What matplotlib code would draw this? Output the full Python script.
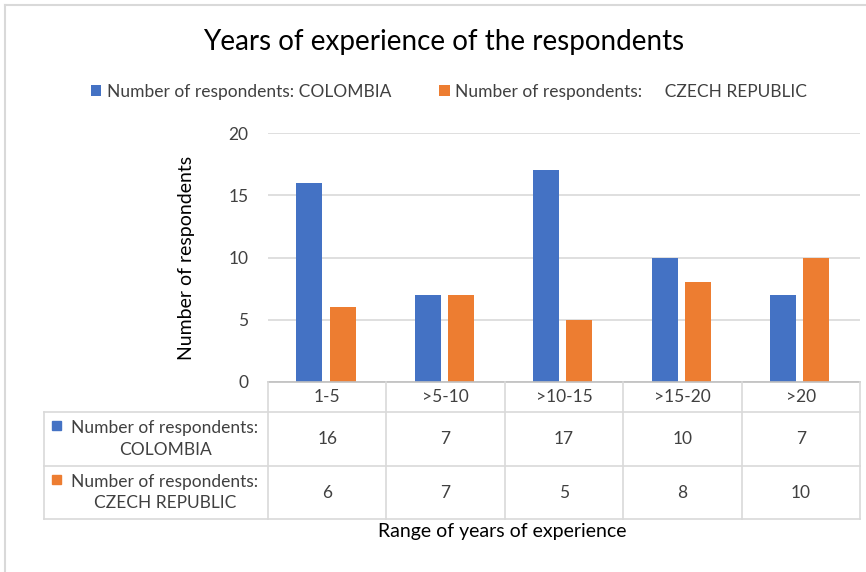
import numpy as np
import matplotlib
matplotlib.use("Agg")
import matplotlib.pyplot as plt
from matplotlib.lines import Line2D
from matplotlib.patches import Rectangle

plt.rcParams['font.family'] = ['Lato', 'DejaVu Sans']

# data
categories = ['1-5', '>5-10', '>10-15', '>15-20', '>20']
colombia = [16, 7, 17, 10, 7]
czech = [6, 7, 5, 8, 10]
series_names = ['Number of respondents: COLOMBIA', 'Number of respondents:     CZECH REPUBLIC']
row_labels = ['Number of respondents:\nCOLOMBIA', 'Number of respondents:\nCZECH REPUBLIC']
yticks = [0, 5, 10, 15, 20]

blue = '#4472C4'
orange = '#ED7D31'
grid = '#D9D9D9'
txt = '#000000'
tick_col = '#404040'

W, H = 866, 572
fig = plt.figure(figsize=(W / 100, H / 100), dpi=100)

def fx(px):
    return px / W

def fy(py):
    return 1 - py / H

# plot area in pixels
x0, x1 = 268, 860
ytop, ybot = 133, 382
ax = fig.add_axes([fx(x0), fy(ybot), fx(x1) - fx(x0), fy(ytop) - fy(ybot)])

x = np.arange(len(categories))
w = 0.22
b1 = ax.bar(x - 0.15, colombia, w, color=blue, label=series_names[0], zorder=3)
b2 = ax.bar(x + 0.13, czech, w, color=orange, label=series_names[1], zorder=3)
ax.set_xlim(-0.5, len(categories) - 0.5)
ax.set_ylim(0, 20)
ax.set_yticks(yticks)
ax.yaxis.grid(True, color=grid, linewidth=1.2, zorder=0)
ax.set_axisbelow(True)
for s in ax.spines.values():
    s.set_visible(False)
ax.tick_params(axis='y', length=0, labelsize=12.5, labelcolor=tick_col, pad=14)
ax.set_xticks([])
ax.set_ylabel('Number of respondents', fontsize=14, color=txt, labelpad=24)

# table below the axis
col_edges = [x0 + (x1 - x0) * i / len(categories) for i in range(len(categories) + 1)]
tab_left = 44
row_edges = [382, 412, 466, 519]

def hline(y, xa, xb, c=grid, lw=1.2):
    fig.add_artist(Line2D([fx(xa), fx(xb)], [fy(y), fy(y)], color=c, lw=lw))

def vline(xp, ya, yb, c=grid, lw=1.2):
    fig.add_artist(Line2D([fx(xp), fx(xp)], [fy(ya), fy(yb)], color=c, lw=lw))

hline(row_edges[0], x0, x1, c='#BFBFBF')
for y in row_edges[1:]:
    hline(y, tab_left, x1)
for xp in col_edges:
    vline(xp, row_edges[0], row_edges[-1])
vline(tab_left, row_edges[1], row_edges[-1])

for i, c in enumerate(categories):
    cx = (col_edges[i] + col_edges[i + 1]) / 2
    fig.text(fx(cx), fy((row_edges[0] + row_edges[1]) / 2), c, ha='center', va='center',
             fontsize=12.5, color=tick_col)

for r, (vals, col, lab) in enumerate([(colombia, blue, row_labels[0]), (czech, orange, row_labels[1])]):
    ya, yb = row_edges[r + 1], row_edges[r + 2]
    cy = (ya + yb) / 2
    for i, v in enumerate(vals):
        cx = (col_edges[i] + col_edges[i + 1]) / 2
        fig.text(fx(cx), fy(cy), str(v), ha='center', va='center', fontsize=12.5, color=tick_col)
    fig.add_artist(Rectangle((fx(52), fy(ya + 18)), fx(9), fy(0) - fy(9), color=col,
                             transform=fig.transFigure))
    fig.text(fx(165), fy(cy), lab, ha='center', va='center', fontsize=12.5, color=tick_col,
             linespacing=1.45)

fig.text(fx(502), fy(531), 'Range of years of experience', ha='center', va='center',
         fontsize=14, color=txt)

fig.text(fx(444), fy(42), 'Years of experience of the respondents', ha='center', va='center',
         fontsize=20, color=txt)

fig.legend(handles=[b1, b2], loc='center', bbox_to_anchor=(fx(449), fy(92)), ncol=2,
           frameon=False, fontsize=12.5, handlelength=0.6, handleheight=0.6,
           handletextpad=0.3, columnspacing=2.8, labelcolor=tick_col)

# chart frame edges
fig.add_artist(Line2D([fx(5), fx(866)], [fy(5), fy(5)], color=grid, lw=1.5))
fig.add_artist(Line2D([fx(5), fx(5)], [fy(5), fy(572)], color=grid, lw=1.5))

fig.savefig('out.png', dpi=100)
